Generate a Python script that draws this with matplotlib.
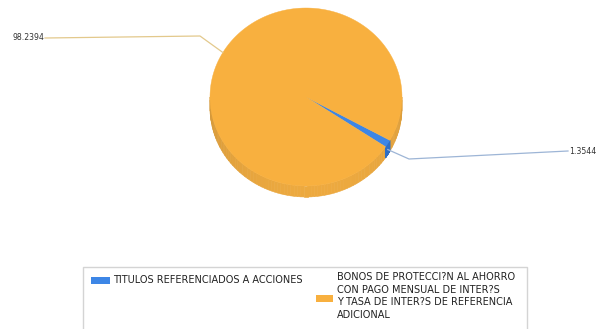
import numpy as np
import matplotlib
matplotlib.use("Agg")
import matplotlib.pyplot as plt
from matplotlib.patches import Polygon, Rectangle

# data
labels = ["TITULOS REFERENCIADOS A ACCIONES",
          "BONOS DE PROTECCI?N AL AHORRO\nCON PAGO MENSUAL DE INTER?S\nY TASA DE INTER?S DE REFERENCIA\nADICIONAL"]
values = [1.3544, 98.2394]
colors = ["#3D86E6", "#F8B03F"]
side_colors = ["#2F6EC4", "#E8A63E"]
line_colors = ["#9DB5D6", "#E3C98C"]

fig = plt.figure(figsize=(6.11, 3.29), dpi=100)
ax = fig.add_axes([0, 0, 1, 1])
ax.set_xlim(0, 611)
ax.set_ylim(329, 0)
ax.axis("off")

# pie geometry in pixel units
cx, cy = 306, 97
rx, ry = 96, 89
depth = 11
start = -34.0


def pt(t, dy=0):
    r = np.radians(t)
    return cx + rx * np.cos(r), cy - ry * np.sin(r) + dy


fracs = np.array(values) / sum(values) * 360.0
bounds = start + np.concatenate([[0], np.cumsum(fracs)])


# side of the pie (front half only)
def side(t0, t1, color, shade=True):
    ts = np.linspace(t0, t1, 90)
    base = np.array(matplotlib.colors.to_rgb(color))
    for a, b in zip(ts[:-1], ts[1:]):
        c = base
        if shade:
            m = (a + b) / 2
            f = 0.93 + 0.09 * np.cos(np.radians(m - 280))
            c = np.clip(base * f, 0, 1)
        poly = [pt(a), pt(b), pt(b, depth), pt(a, depth)]
        ax.add_patch(Polygon(poly, closed=True, facecolor=c, edgecolor=c, lw=0.4))


side(180, 360, side_colors[1])
side(bounds[0] + 360, bounds[1] + 360, side_colors[0], shade=False)

# top faces
for i in range(len(values)):
    ts = np.linspace(bounds[i], bounds[i + 1], 200)
    pts = [(cx, cy)] + [pt(t) for t in ts]
    ax.add_patch(Polygon(pts, closed=True, facecolor=colors[i],
                         edgecolor=colors[i], lw=0.3))

# labels with leader lines
ex, ey = pt((bounds[0] + bounds[1]) / 2, 6)
ax.plot([ex, 409, 568], [ey, 159, 151], color=line_colors[0], lw=0.9)
ax.text(569, 151, f"{values[0]:.4f}", fontsize=5.6, va="center", ha="left",
        color="#333333")

ox, oy = pt(150)
ax.plot([ox, 200, 45], [oy, 36, 38], color=line_colors[1], lw=0.9)
ax.text(44, 38, f"{values[1]:.4f}", fontsize=5.6, va="center", ha="right",
        color="#333333")

# legend box
ax.add_patch(Rectangle((83, 267), 444, 70, facecolor="white",
                       edgecolor="#D4D4D4", lw=1))
ax.add_patch(Rectangle((91, 276.5), 19, 7, facecolor=colors[0], edgecolor="none"))
ax.text(113, 280, labels[0], fontsize=7, va="center", ha="left", color="#222222")
ax.add_patch(Rectangle((316, 294.5), 17, 7, facecolor=colors[1], edgecolor="none"))
ax.text(337, 272.5, labels[1], fontsize=7, va="top", ha="left", color="#222222",
        linespacing=1.3)

fig.savefig("out.png", dpi=100)
